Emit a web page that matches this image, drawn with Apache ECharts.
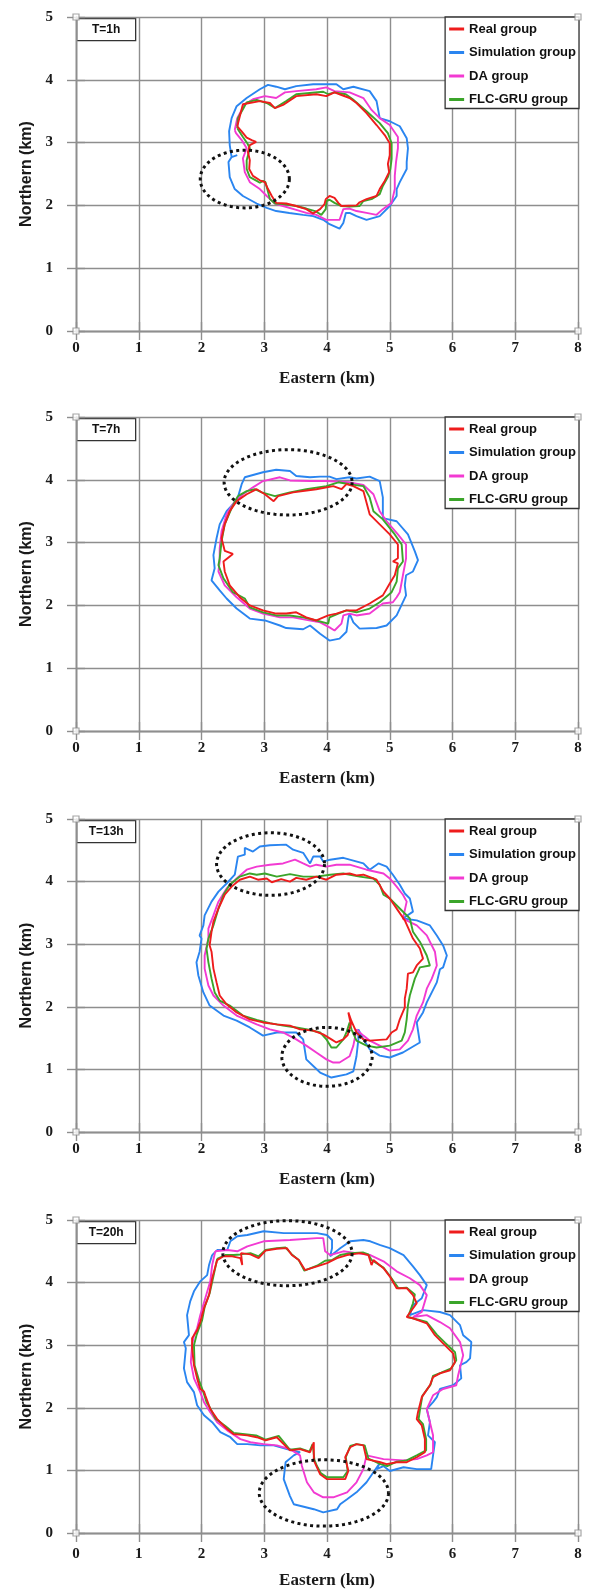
<!DOCTYPE html>
<html><head><meta charset="utf-8">
<script src="https://cdn.jsdelivr.net/npm/echarts@6/dist/echarts.min.js"></script>
<style>html,body{margin:0;padding:0;background:#fff}#c{width:590px;height:1591px}</style>
</head><body><div id="c"></div>
<script>
// ---------------- DATA ----------------
const seriesNames = ['Real group', 'Simulation group', 'DA group', 'FLC-GRU group'];
const panelLabels = ['T=1h', 'T=7h', 'T=13h', 'T=20h'];
const xTicks = [0, 1, 2, 3, 4, 5, 6, 7, 8];
const yTicks = [0, 1, 2, 3, 4, 5];
const corners = [[0, 0], [0, 5], [8, 0], [8, 5]];

// T = 1h
const real1 = [[2.57,3.26],[2.66,3.61],[2.93,3.66],[3.09,3.63],[3.17,3.55],[3.3,3.6],[3.51,3.74],[3.83,3.77],[3.99,3.74],[4.12,3.8],[4.2,3.77],[4.36,3.71],[4.47,3.63],[4.63,3.47],[4.79,3.28],[4.92,3.12],[5.0,2.99],[5.0,2.8],[4.97,2.66],[4.99,2.53],[4.92,2.39],[4.84,2.26],[4.79,2.15],[4.63,2.1],[4.52,2.05],[4.47,2.0],[4.23,1.99],[4.18,2.04],[4.12,2.12],[4.04,2.15],[3.98,2.1],[3.96,2.02],[3.89,1.94],[3.78,1.87],[3.67,1.94],[3.51,1.99],[3.35,2.03],[3.19,2.04],[3.12,2.15],[3.06,2.26],[3.01,2.37],[2.93,2.4],[2.82,2.47],[2.76,2.58],[2.77,2.72],[2.74,2.85],[2.77,2.96],[2.87,3.01],[2.8,3.04],[2.72,3.08],[2.64,3.18],[2.57,3.26]];
const sim1 = [[2.57,2.8],[2.48,2.77],[2.45,2.96],[2.44,3.18],[2.48,3.39],[2.56,3.58],[2.72,3.71],[2.93,3.85],[3.06,3.92],[3.19,3.89],[3.33,3.85],[3.51,3.9],[3.78,3.93],[3.99,3.93],[4.15,3.93],[4.26,3.85],[4.42,3.89],[4.68,3.82],[4.79,3.66],[4.84,3.39],[5.0,3.34],[5.16,3.26],[5.27,3.07],[5.29,2.91],[5.27,2.69],[5.27,2.58],[5.16,2.37],[5.11,2.26],[5.11,2.15],[5.0,1.99],[4.84,1.83],[4.63,1.77],[4.47,1.83],[4.36,1.88],[4.3,1.88],[4.26,1.72],[4.2,1.63],[4.04,1.7],[3.94,1.77],[3.78,1.83],[3.62,1.85],[3.4,1.88],[3.19,1.91],[3.04,1.96],[2.88,2.03],[2.66,2.15],[2.53,2.26],[2.45,2.45],[2.43,2.69],[2.48,2.77]];
const da1 = [[2.53,3.2],[2.57,3.39],[2.69,3.61],[2.82,3.69],[3.01,3.74],[3.19,3.71],[3.33,3.8],[3.51,3.82],[3.83,3.85],[3.99,3.88],[4.12,3.82],[4.36,3.8],[4.58,3.71],[4.71,3.52],[4.84,3.39],[5.0,3.28],[5.13,3.09],[5.13,2.91],[5.1,2.69],[5.08,2.47],[5.08,2.26],[5.03,2.04],[4.89,1.94],[4.79,1.85],[4.63,1.88],[4.47,1.91],[4.36,1.95],[4.26,1.94],[4.2,1.77],[3.99,1.77],[3.83,1.85],[3.67,1.88],[3.51,1.93],[3.3,1.99],[3.17,2.03],[3.04,2.15],[2.93,2.26],[2.77,2.37],[2.69,2.53],[2.66,2.75],[2.72,2.91],[2.64,3.04],[2.55,3.15],[2.53,3.2]];
const flc1 = [[2.57,3.23],[2.58,3.39],[2.66,3.53],[2.72,3.64],[2.88,3.68],[3.04,3.63],[3.17,3.55],[3.35,3.66],[3.51,3.77],[3.94,3.81],[4.02,3.77],[4.12,3.8],[4.3,3.77],[4.41,3.69],[4.63,3.5],[4.84,3.31],[4.97,3.15],[5.03,2.99],[5.03,2.74],[5.01,2.58],[4.97,2.45],[4.89,2.31],[4.84,2.18],[4.71,2.1],[4.58,2.07],[4.52,1.99],[4.36,1.98],[4.23,1.99],[4.12,2.04],[4.04,2.09],[3.99,2.07],[3.98,1.94],[3.91,1.85],[3.81,1.91],[3.67,1.95],[3.51,1.99],[3.3,2.02],[3.17,2.03],[3.09,2.1],[3.02,2.37],[2.98,2.39],[2.93,2.36],[2.88,2.39],[2.77,2.45],[2.72,2.58],[2.72,2.72],[2.77,2.91],[2.73,2.99],[2.66,3.09],[2.57,3.23]];

// T = 7h
const real7 = [[2.56,3.66],[2.72,3.77],[2.88,3.85],[3.01,3.77],[3.15,3.66],[3.22,3.74],[3.46,3.8],[3.83,3.85],[4.1,3.9],[4.23,3.85],[4.31,3.93],[4.42,3.9],[4.58,3.82],[4.68,3.45],[4.84,3.29],[5.0,3.13],[5.13,2.97],[5.13,2.75],[5.05,2.7],[5.13,2.67],[5.08,2.48],[5.0,2.35],[4.89,2.16],[4.68,2.03],[4.47,1.92],[4.31,1.92],[4.15,1.87],[4.02,1.84],[3.83,1.76],[3.67,1.81],[3.51,1.89],[3.35,1.87],[3.19,1.87],[2.98,1.92],[2.77,2.0],[2.61,2.13],[2.45,2.32],[2.37,2.54],[2.35,2.7],[2.5,2.82],[2.37,2.87],[2.32,3.07],[2.37,3.29],[2.45,3.5],[2.56,3.66]];
const sim7 = [[2.24,3.07],[2.29,3.29],[2.4,3.5],[2.5,3.61],[2.58,3.72],[2.64,3.93],[2.69,4.04],[2.98,4.12],[3.19,4.16],[3.41,4.14],[3.51,4.06],[3.73,4.04],[3.89,4.05],[4.04,4.05],[4.15,4.01],[4.36,4.04],[4.47,4.02],[4.68,4.05],[4.84,3.98],[4.89,3.72],[4.89,3.39],[5.11,3.34],[5.29,3.13],[5.4,2.86],[5.45,2.72],[5.37,2.54],[5.26,2.48],[5.24,2.32],[5.26,2.16],[5.11,1.84],[4.95,1.68],[4.79,1.64],[4.52,1.63],[4.42,1.73],[4.36,1.87],[4.34,1.79],[4.31,1.58],[4.2,1.47],[4.04,1.44],[3.89,1.55],[3.73,1.68],[3.62,1.62],[3.35,1.64],[3.25,1.68],[3.01,1.76],[2.77,1.79],[2.56,1.95],[2.4,2.11],[2.29,2.24],[2.16,2.4],[2.21,2.59],[2.19,2.8],[2.24,3.07]];
const da7 = [[2.4,3.45],[2.5,3.61],[2.66,3.77],[2.82,3.88],[2.98,3.98],[3.25,4.04],[3.41,3.99],[3.73,3.98],[3.99,3.98],[4.36,3.96],[4.58,3.92],[4.74,3.77],[4.84,3.5],[4.95,3.34],[5.13,3.13],[5.26,2.97],[5.26,2.75],[5.21,2.48],[5.16,2.21],[5.11,2.13],[5.05,2.05],[4.89,2.03],[4.68,1.87],[4.47,1.84],[4.36,1.87],[4.26,1.84],[4.23,1.71],[4.12,1.6],[4.04,1.65],[3.89,1.73],[3.67,1.77],[3.46,1.81],[3.25,1.81],[2.98,1.87],[2.77,1.95],[2.56,2.13],[2.37,2.32],[2.27,2.54],[2.29,2.7],[2.29,2.91],[2.32,3.18],[2.4,3.45]];
const flc7 = [[2.58,3.74],[2.72,3.82],[2.85,3.85],[2.96,3.8],[3.17,3.74],[3.41,3.8],[3.67,3.85],[3.99,3.9],[4.18,3.96],[4.36,3.93],[4.58,3.9],[4.68,3.72],[4.74,3.5],[4.89,3.37],[5.08,3.13],[5.19,2.97],[5.21,2.7],[5.13,2.59],[5.11,2.38],[5.03,2.21],[4.84,2.05],[4.68,1.95],[4.47,1.89],[4.31,1.92],[4.18,1.87],[4.04,1.81],[4.02,1.71],[3.83,1.76],[3.62,1.81],[3.41,1.84],[3.19,1.84],[2.98,1.89],[2.77,1.97],[2.69,2.11],[2.5,2.21],[2.35,2.43],[2.27,2.64],[2.29,2.75],[2.32,3.02],[2.37,3.29],[2.48,3.55],[2.58,3.74]];

// T = 13h
const real13 = [[2.48,3.92],[2.61,4.03],[2.77,4.08],[2.9,4.03],[3.04,4.05],[3.12,3.99],[3.27,4.04],[3.41,4.0],[3.51,4.06],[3.67,4.03],[3.83,4.08],[3.99,4.03],[4.15,4.11],[4.36,4.13],[4.47,4.1],[4.58,4.11],[4.79,4.03],[4.9,3.84],[5.0,3.73],[5.13,3.54],[5.24,3.38],[5.37,3.09],[5.48,2.93],[5.53,2.77],[5.43,2.66],[5.37,2.55],[5.29,2.53],[5.27,2.29],[5.24,2.13],[5.24,1.99],[5.16,1.8],[5.11,1.64],[5.03,1.59],[4.95,1.48],[4.68,1.46],[4.58,1.48],[4.47,1.59],[4.39,1.77],[4.34,1.91],[4.38,1.72],[4.33,1.55],[4.26,1.48],[4.15,1.43],[4.07,1.48],[3.94,1.56],[3.78,1.62],[3.57,1.64],[3.41,1.7],[3.2,1.72],[2.98,1.75],[2.77,1.8],[2.56,1.91],[2.4,2.04],[2.29,2.18],[2.24,2.39],[2.19,2.61],[2.16,2.88],[2.13,2.98],[2.16,3.2],[2.19,3.36],[2.27,3.57],[2.37,3.79],[2.48,3.92]];
const sim13 = [[2.4,3.97],[2.53,4.11],[2.58,4.4],[2.69,4.43],[2.69,4.54],[2.82,4.48],[2.93,4.56],[3.09,4.58],[3.35,4.59],[3.46,4.51],[3.62,4.46],[3.73,4.29],[3.78,4.4],[3.89,4.4],[3.94,4.32],[4.05,4.35],[4.26,4.38],[4.58,4.29],[4.68,4.19],[4.82,4.29],[4.95,4.24],[5.05,4.11],[5.16,3.95],[5.24,3.81],[5.32,3.73],[5.37,3.52],[5.21,3.41],[5.43,3.38],[5.64,3.3],[5.75,3.14],[5.85,2.98],[5.91,2.82],[5.85,2.63],[5.8,2.6],[5.75,2.39],[5.59,2.07],[5.53,1.91],[5.43,1.75],[5.48,1.43],[5.21,1.27],[5.0,1.19],[4.84,1.22],[4.68,1.32],[4.58,1.48],[4.5,1.64],[4.5,1.48],[4.47,1.21],[4.42,0.97],[4.31,0.92],[4.07,0.87],[3.89,0.95],[3.67,1.16],[3.62,1.48],[3.51,1.59],[3.2,1.59],[2.98,1.54],[2.77,1.67],[2.56,1.78],[2.35,1.86],[2.13,2.02],[2.03,2.23],[1.95,2.5],[1.92,2.71],[1.97,2.88],[2.0,3.09],[1.97,3.14],[2.03,3.3],[2.05,3.46],[2.16,3.68],[2.27,3.84],[2.4,3.97]];
const da13 = [[2.4,3.89],[2.56,4.05],[2.72,4.19],[2.88,4.24],[3.09,4.27],[3.3,4.29],[3.49,4.35],[3.62,4.29],[3.73,4.24],[3.83,4.27],[3.99,4.24],[4.15,4.27],[4.36,4.27],[4.63,4.19],[4.9,4.13],[5.0,4.05],[5.11,3.92],[5.21,3.79],[5.27,3.68],[5.21,3.41],[5.43,3.3],[5.59,3.14],[5.72,2.88],[5.75,2.66],[5.67,2.45],[5.59,2.29],[5.53,2.07],[5.43,1.86],[5.37,1.64],[5.29,1.46],[5.16,1.32],[5.0,1.3],[4.84,1.38],[4.68,1.46],[4.58,1.54],[4.47,1.64],[4.42,1.38],[4.36,1.21],[4.2,1.11],[4.1,1.11],[3.99,1.16],[3.83,1.27],[3.67,1.38],[3.51,1.48],[3.3,1.59],[3.09,1.64],[2.88,1.72],[2.56,1.86],[2.35,2.02],[2.19,2.18],[2.11,2.34],[2.05,2.61],[2.05,2.82],[2.11,3.09],[2.11,3.25],[2.19,3.46],[2.27,3.68],[2.4,3.89]];
const flc13 = [[2.45,3.95],[2.61,4.08],[2.77,4.13],[2.88,4.11],[3.01,4.13],[3.2,4.08],[3.41,4.12],[3.62,4.08],[3.83,4.08],[4.05,4.11],[4.26,4.13],[4.52,4.08],[4.74,4.05],[4.84,3.95],[4.9,3.79],[5.0,3.73],[5.16,3.57],[5.32,3.41],[5.37,3.2],[5.48,3.04],[5.59,2.82],[5.64,2.66],[5.48,2.63],[5.4,2.45],[5.32,2.18],[5.29,2.02],[5.27,1.8],[5.24,1.59],[5.19,1.46],[5.0,1.38],[4.79,1.35],[4.63,1.38],[4.47,1.46],[4.39,1.64],[4.36,1.75],[4.31,1.59],[4.26,1.48],[4.15,1.35],[4.07,1.35],[3.99,1.48],[3.89,1.59],[3.73,1.63],[3.51,1.67],[3.3,1.7],[3.09,1.74],[2.88,1.79],[2.66,1.86],[2.45,2.02],[2.29,2.1],[2.21,2.23],[2.16,2.45],[2.11,2.71],[2.08,2.93],[2.11,3.09],[2.19,3.3],[2.27,3.57],[2.35,3.79],[2.45,3.95]];

// T = 20h
const real20 = [[2.25,4.36],[2.35,4.42],[2.49,4.42],[2.62,4.39],[2.65,4.28],[2.63,4.47],[2.78,4.45],[2.91,4.39],[3.02,4.51],[3.2,4.54],[3.36,4.55],[3.44,4.44],[3.55,4.36],[3.65,4.2],[3.84,4.26],[4.0,4.31],[4.16,4.39],[4.32,4.44],[4.53,4.47],[4.66,4.44],[4.71,4.28],[4.74,4.36],[4.9,4.23],[5.0,4.1],[5.11,3.91],[5.27,3.91],[5.37,3.8],[5.43,3.67],[5.27,3.45],[5.37,3.43],[5.59,3.35],[5.72,3.16],[5.85,3.03],[6.01,2.87],[6.04,2.73],[5.96,2.6],[5.8,2.55],[5.69,2.49],[5.64,2.36],[5.51,2.17],[5.45,1.93],[5.43,1.82],[5.51,1.72],[5.56,1.5],[5.56,1.29],[5.43,1.21],[5.27,1.13],[5.11,1.13],[4.95,1.1],[4.85,1.13],[4.63,1.18],[4.58,1.4],[4.47,1.42],[4.37,1.37],[4.29,1.21],[4.34,0.99],[4.29,0.86],[4.16,0.86],[4.0,0.86],[3.89,0.94],[3.84,1.05],[3.79,1.16],[3.79,1.45],[3.73,1.29],[3.57,1.34],[3.41,1.32],[3.2,1.53],[3.02,1.48],[2.88,1.53],[2.73,1.56],[2.51,1.58],[2.41,1.66],[2.25,1.82],[2.14,1.98],[2.06,2.2],[2.04,2.26],[1.98,2.3],[1.93,2.47],[1.88,2.68],[1.85,2.95],[1.85,3.11],[1.93,3.24],[1.98,3.37],[2.04,3.59],[2.12,3.8],[2.17,4.07],[2.25,4.36]];
const sim20 = [[2.17,4.44],[2.25,4.52],[2.41,4.52],[2.46,4.66],[2.57,4.74],[2.73,4.76],[2.99,4.82],[3.31,4.79],[3.57,4.79],[3.84,4.79],[4.0,4.76],[4.08,4.68],[4.08,4.55],[4.05,4.42],[4.21,4.55],[4.37,4.66],[4.58,4.68],[4.69,4.66],[4.85,4.6],[5.0,4.55],[5.22,4.44],[5.37,4.26],[5.48,4.12],[5.59,3.96],[5.51,3.75],[5.37,3.64],[5.32,3.48],[5.53,3.56],[5.8,3.53],[5.96,3.48],[6.12,3.32],[6.17,3.16],[6.3,3.05],[6.28,2.79],[6.22,2.73],[6.12,2.68],[6.14,2.47],[6.01,2.36],[5.8,2.3],[5.75,2.17],[5.69,2.09],[5.59,1.98],[5.64,1.77],[5.61,1.56],[5.72,1.45],[5.69,1.24],[5.66,1.02],[5.43,1.02],[5.22,1.05],[5.0,0.99],[4.9,1.07],[4.79,1.02],[4.85,1.13],[4.74,0.97],[4.63,0.81],[4.47,0.65],[4.32,0.54],[4.21,0.46],[4.16,0.38],[3.94,0.33],[3.79,0.38],[3.47,0.46],[3.41,0.59],[3.31,0.86],[3.34,1.13],[3.47,1.24],[3.57,1.29],[3.36,1.34],[3.15,1.4],[2.94,1.4],[2.73,1.42],[2.57,1.42],[2.46,1.53],[2.3,1.61],[2.17,1.77],[2.04,1.88],[1.93,2.04],[1.88,2.25],[1.77,2.41],[1.72,2.63],[1.75,2.95],[1.72,3.05],[1.8,3.16],[1.77,3.48],[1.82,3.7],[1.88,3.86],[1.98,4.02],[2.09,4.12],[2.12,4.28],[2.17,4.44]];
const da20 = [[2.22,4.5],[2.41,4.52],[2.57,4.5],[2.73,4.58],[2.99,4.66],[3.41,4.68],[3.84,4.71],[3.94,4.71],[3.97,4.5],[4.05,4.44],[4.26,4.5],[4.47,4.47],[4.69,4.44],[4.9,4.34],[5.11,4.18],[5.32,4.07],[5.48,3.96],[5.59,3.8],[5.51,3.53],[5.37,3.45],[5.59,3.48],[5.8,3.37],[5.96,3.27],[6.12,3.05],[6.17,2.84],[6.09,2.52],[6.06,2.36],[5.85,2.3],[5.69,2.2],[5.59,1.98],[5.64,1.77],[5.69,1.56],[5.69,1.29],[5.59,1.24],[5.43,1.18],[5.22,1.16],[4.9,1.18],[4.63,1.24],[4.58,1.02],[4.47,0.81],[4.32,0.65],[4.1,0.57],[3.94,0.57],[3.79,0.65],[3.68,0.81],[3.6,1.07],[3.57,1.24],[3.41,1.34],[3.2,1.4],[2.99,1.42],[2.78,1.45],[2.62,1.5],[2.41,1.64],[2.25,1.77],[2.14,1.93],[2.04,2.09],[1.98,2.25],[1.88,2.47],[1.83,2.73],[1.85,3.0],[1.88,3.16],[1.93,3.27],[1.98,3.48],[2.06,3.75],[2.14,4.02],[2.17,4.28],[2.22,4.5]];
const flc20 = [[2.25,4.38],[2.38,4.44],[2.51,4.44],[2.62,4.45],[2.78,4.47],[2.91,4.42],[3.02,4.52],[3.2,4.55],[3.34,4.56],[3.44,4.45],[3.55,4.36],[3.64,4.19],[3.84,4.27],[3.97,4.35],[4.08,4.36],[4.21,4.44],[4.37,4.47],[4.58,4.48],[4.66,4.45],[4.71,4.36],[4.9,4.24],[5.0,4.11],[5.14,3.91],[5.27,3.92],[5.4,3.81],[5.37,3.67],[5.29,3.45],[5.59,3.37],[5.75,3.17],[5.88,3.04],[6.04,2.89],[6.06,2.76],[5.98,2.63],[5.82,2.56],[5.69,2.51],[5.65,2.37],[5.52,2.19],[5.48,1.96],[5.46,1.82],[5.53,1.74],[5.58,1.5],[5.58,1.32],[5.43,1.24],[5.27,1.16],[5.11,1.14],[4.96,1.07],[4.85,1.1],[4.66,1.19],[4.6,1.4],[4.47,1.42],[4.37,1.39],[4.3,1.21],[4.33,0.99],[4.26,0.89],[4.0,0.89],[3.9,0.96],[3.84,1.07],[3.8,1.17],[3.77,1.42],[3.72,1.3],[3.57,1.35],[3.41,1.33],[3.23,1.55],[3.02,1.49],[2.87,1.56],[2.51,1.6],[2.38,1.71],[2.22,1.83],[2.13,2.01],[2.08,2.09],[2.03,2.25],[1.96,2.44],[1.89,2.68],[1.88,3.0],[1.92,3.16],[1.96,3.27],[2.01,3.4],[2.05,3.61],[2.13,3.83],[2.19,4.1],[2.25,4.38]];

// dotted ellipses: [centerX, centerY, radiusX, radiusY] (km)
const ellipses1 = [[2.69, 2.42, 0.71, 0.46]];
const ellipses7 = [[3.38, 3.96, 1.02, 0.52]];
const ellipses13 = [[3.1, 4.28, 0.86, 0.5], [4.0, 1.2, 0.72, 0.47]];
const ellipses20 = [[3.37, 4.47, 1.03, 0.52], [3.95, 0.64, 1.03, 0.53]];

const panels = [
  { real: real1, sim: sim1, da: da1, flc: flc1, ell: ellipses1 },
  { real: real7, sim: sim7, da: da7, flc: flc7, ell: ellipses7 },
  { real: real13, sim: sim13, da: da13, flc: flc13, ell: ellipses13 },
  { real: real20, sim: sim20, da: da20, flc: flc20, ell: ellipses20 }
];

// ---------------- LAYOUT / STYLE ----------------
const LEFT = 76, GRID_W = 502;
const panelTops = [17, 417, 819, 1220];
const panelH = [314, 314, 313, 313];
const labelMargins = [10, 10, 10, 14];
const colors = { 'Real group': '#ee1c1c', 'Simulation group': '#2a85f0', 'DA group': '#f23ad2', 'FLC-GRU group': '#3ba52a' };
const gridColor = '#8e8e8e';
const serif = '"Liberation Serif", "Times New Roman", serif';
const sans = '"Liberation Sans", Arial, sans-serif';

const grid = [], xAxis = [], yAxis = [], series = [], legend = [], graphic = [];
const axLine = { show: true, lineStyle: { color: gridColor, width: 1.4 } };
const axTick = { show: true, inside: false, length: 9, lineStyle: { color: gridColor, width: 1.4 } };

panels.forEach((p, i) => {
  grid.push({ left: LEFT, width: GRID_W, top: panelTops[i], height: panelH[i] });
  xAxis.push({
    gridIndex: i, type: 'value', min: 0, max: 8, interval: 1, position: 'bottom',
    axisLine: axLine, axisTick: axTick,
    splitLine: { show: true, lineStyle: { color: gridColor, width: 1.4 } },
    axisLabel: { margin: labelMargins[i], fontFamily: serif, fontWeight: 'bold', fontSize: 15, color: '#1a1a1a',
      formatter: v => xTicks.includes(v) ? String(v) : '' },
    name: 'Eastern (km)', nameLocation: 'middle', nameGap: 39,
    nameTextStyle: { fontFamily: serif, fontWeight: 'bold', fontSize: 17, color: '#1a1a1a' }
  });
  xAxis.push({
    gridIndex: i, type: 'value', min: 0, max: 8, interval: 1, position: 'top',
    axisLine: axLine, axisTick: axTick, axisLabel: { show: false }, splitLine: { show: false }
  });
  yAxis.push({
    gridIndex: i, type: 'value', min: 0, max: 5, interval: 1, position: 'left',
    axisLine: axLine, axisTick: axTick,
    splitLine: { show: true, lineStyle: { color: gridColor, width: 1.4 } },
    axisLabel: { margin: 23, fontFamily: serif, fontWeight: 'bold', fontSize: 15, color: '#1a1a1a',
      formatter: v => yTicks.includes(v) ? String(v) : '' },
    name: 'Northern (km)', nameLocation: 'middle', nameGap: 41, nameRotate: 90,
    nameTextStyle: { fontFamily: sans, fontWeight: 'bold', fontSize: 16, color: '#1a1a1a' }
  });
  yAxis.push({
    gridIndex: i, type: 'value', min: 0, max: 5, interval: 1, position: 'right',
    axisLine: axLine, axisTick: axTick, axisLabel: { show: false }, splitLine: { show: false }
  });
  const xi = i * 2, yi = i * 2;
  const order = [['Simulation group', p.sim], ['DA group', p.da], ['FLC-GRU group', p.flc], ['Real group', p.real]];
  order.forEach(([name, data]) => {
    series.push({
      type: 'line', name, xAxisIndex: xi, yAxisIndex: yi, data,
      symbol: 'none', smooth: false, clip: false, silent: true,
      lineStyle: { color: colors[name], width: 1.9 }, itemStyle: { color: colors[name] }, z: 3
    });
  });
  series.push({
    type: 'custom', xAxisIndex: xi, yAxisIndex: yi, data: p.ell, silent: true, clip: false, z: 4,
    renderItem: (params, api) => {
      const c = api.coord([api.value(0), api.value(1)]);
      const s = api.size([api.value(2), api.value(3)]);
      const pts = [];
      const N = 120;
      for (let k = 0; k <= N; k++) {
        const a = k / N * Math.PI * 2;
        pts.push([c[0] + s[0] * Math.cos(a), c[1] + s[1] * Math.sin(a)]);
      }
      return { type: 'polyline', shape: { points: pts },
        style: { stroke: '#111', lineWidth: 3, lineDash: [3, 3.4], fill: null } };
    }
  });
  series.push({
    type: 'scatter', xAxisIndex: xi, yAxisIndex: yi, data: corners, silent: true, clip: false,
    symbol: 'rect', symbolSize: 6, z: 6,
    itemStyle: { color: '#fff', borderColor: gridColor, borderWidth: 1.2 }
  });
  legend.push({
    data: seriesNames, orient: 'vertical', right: 11, top: panelTops[i],
    backgroundColor: '#fff', borderColor: '#333', borderWidth: 1.3, borderRadius: 0,
    padding: [5.5, 3, 2.5, 4], itemGap: 10.5, itemWidth: 15, itemHeight: 3, icon: 'rect',
    selectedMode: false,
    textStyle: { fontFamily: sans, fontWeight: 'bold', fontSize: 13, color: '#111' }
  });
  graphic.push({
    type: 'group', left: LEFT, top: panelTops[i] + 1, z: 100,
    children: [
      { type: 'rect', shape: { x: 0, y: 0, width: 59, height: 22 },
        style: { fill: '#fff', stroke: '#333', lineWidth: 1.3 } },
      { type: 'text', x: 29.5, y: 11,
        style: { text: panelLabels[i], fontFamily: sans, fontWeight: 'bold', fontSize: 12, fill: '#111',
          align: 'center', verticalAlign: 'middle' } }
    ]
  });
});

const chart = echarts.init(document.getElementById('c'), null, { renderer: 'canvas' });
chart.setOption({
  backgroundColor: '#fff', animation: false,
  grid, xAxis, yAxis, series, legend, graphic
});
</script>
</body></html>
